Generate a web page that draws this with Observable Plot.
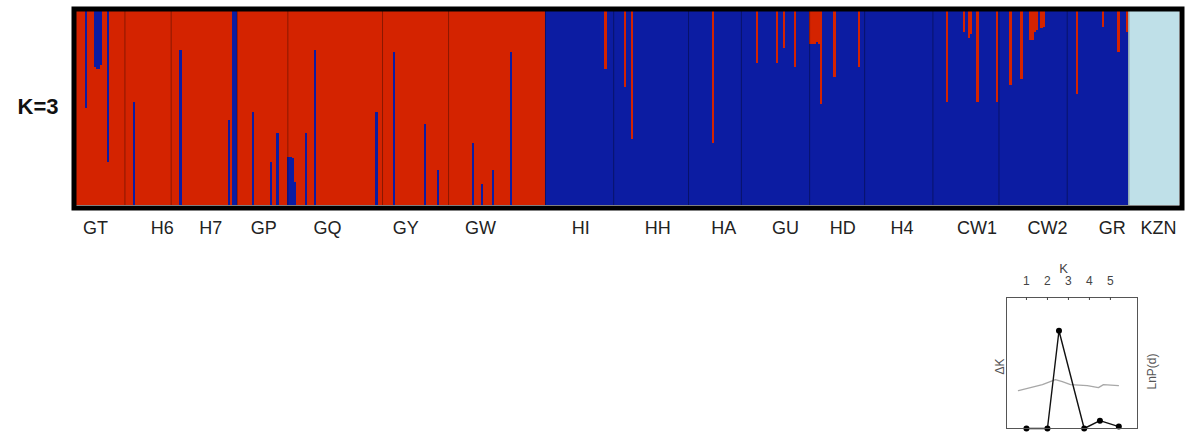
<!DOCTYPE html>
<html>
<head>
<meta charset="utf-8">
<script src="https://cdn.jsdelivr.net/npm/d3@7"></script>
<script src="https://cdn.jsdelivr.net/npm/@observablehq/plot@0.6"></script>
<style>
  html, body { margin: 0; padding: 0; background: #fff; }
  #wrap { position: relative; width: 1188px; height: 434px; overflow: hidden; }
  #inset { position: absolute; left: 980px; top: 255px; }
</style>
</head>
<body>
<div id="wrap"><div id="main"></div><div id="inset"></div></div>
<script>
// ---- Main STRUCTURE plot data (K=3) ----
const populations = ["GT","H6","H7","GP","GQ","GY","GW","HI","HH","HA","GU","HD","H4","CW1","CW2","GR","KZN"];
const popSizes    = [22, 21, 30, 23, 43, 30, 44, 31, 34, 24, 31, 25, 31, 30, 31, 28, 23];
const popCluster  = [0, 0, 0, 0, 0, 0, 0, 1, 1, 1, 1, 1, 1, 1, 1, 1, 2];
const labelPos    = [8.6, 39, 61, 85, 114, 149.5, 183.5, 229, 264, 294, 322, 348, 375, 409, 441, 470.5, 491.5];
const clusterColors = ["#d42300", "#0c1ca2", "#bfe0e8"];

// admixed individuals: index, share of the minority cluster, drawn from top (1) or bottom (0)
const admixIndex  = [4, 8, 9, 10, 11, 14, 26, 47, 69, 71, 72, 80, 88, 91, 96, 97, 98, 99, 104, 108, 136, 144, 158, 164, 180, 184, 189, 197,
                     240, 249, 252, 289, 309, 318, 321, 326, 333, 334, 335, 336, 337, 338, 344, 355, 395, 403, 405, 406, 409, 418, 424, 429, 433, 434, 435, 436, 438, 439, 454, 466, 473, 477];
const admixShare  = [0.50, 0.29, 0.30, 0.30, 0.28, 0.78, 0.53, 0.80, 0.44, 1.0, 1.0, 0.48, 0.22, 0.37, 0.25, 0.25, 0.24, 0.12, 0.37, 0.80, 0.48, 0.79, 0.42, 0.18, 0.32, 0.11, 0.18, 0.79,
                     0.30, 0.39, 0.66, 0.68, 0.27, 0.27, 0.19, 0.29, 0.17, 0.17, 0.17, 0.16, 0.17, 0.48, 0.34, 0.29, 0.47, 0.11, 0.14, 0.12, 0.47, 0.47, 0.38, 0.35, 0.15, 0.15, 0.11, 0.10, 0.09, 0.08, 0.43, 0.08, 0.21, 0.11];
const admixFromTop = [1, 1, 1, 1, 1, 1, 0, 0, 0, 0, 0, 0, 0, 0, 0, 0, 0, 0, 0, 0, 0, 0, 0, 0, 0, 0, 0, 0,
                     1, 1, 1, 1, 1, 1, 1, 1, 1, 1, 1, 1, 1, 1, 1, 1, 1, 1, 1, 1, 1, 1, 1, 1, 1, 1, 1, 1, 1, 1, 1, 1, 1, 1];

// ---- Inset (Evanno deltaK) data ----
const kTicks   = [1, 2, 3, 4, 5];
const kValues  = [1, 2, 2.55, 3.75, 4.5, 5.4];
const deltaK   = [0, 0, 100, 0, 8, 2];
const lnpK     = [0.62, 1.19, 1.76, 2.38, 2.71, 3.10, 3.90, 4.43, 4.67, 5.38];
const lnpValue = [38.8, 41.8, 44.9, 50, 48, 44.9, 43.9, 41.8, 44.9, 43.9];

// ---- Build tables ----
const starts = d3.cumsum([0, ...popSizes]);
const total = starts[starts.length - 1];
const popTable = populations.map((p, i) => ({pop: p, x1: starts[i], x2: starts[i + 1], cluster: popCluster[i]}));
function popOf(idx) { return popTable.find(p => idx >= p.x1 && idx < p.x2); }
const admixTable = admixIndex.map((idx, i) => {
  const major = popOf(idx).cluster;
  const minor = major === 0 ? 1 : 0;
  const s = admixShare[i];
  return {x1: idx, x2: idx + 1, y1: admixFromTop[i] ? 1 - s : 0, y2: admixFromTop[i] ? 1 : s, cluster: minor};
});
const boundaries = starts.slice(1, -1);

const font = "'Liberation Sans', Arial, sans-serif";

const main = Plot.plot({
  width: 1188,
  height: 434,
  marginLeft: 76,
  marginRight: 9,
  marginTop: 11,
  marginBottom: 229,
  style: {fontFamily: font, background: "white"},
  x: {domain: [0, total], axis: null},
  y: {domain: [0, 1], axis: null},
  marks: [
    Plot.rectY(popTable, {x1: "x1", x2: "x2", y1: 0, y2: 1, fill: d => clusterColors[d.cluster], shapeRendering: "crispEdges"}),
    Plot.rectY(admixTable, {x1: "x1", x2: "x2", y1: "y1", y2: "y2", fill: d => clusterColors[d.cluster], shapeRendering: "crispEdges"}),
    Plot.ruleX(boundaries, {x: d => d, stroke: "#000", strokeOpacity: 0.35, strokeWidth: 1}),
    Plot.frame({stroke: "#000", strokeWidth: 5, inset: -2.5}),
    Plot.text(populations, {x: (d, i) => labelPos[i], frameAnchor: "bottom", dy: 23, lineAnchor: "middle", textAnchor: "middle", fontSize: 18, fill: "#222"}),
    Plot.text(["K=3"], {frameAnchor: "left", dx: -18, dy: -2, textAnchor: "end", lineAnchor: "middle", fontSize: 22, fontWeight: "bold", fill: "#111"})
  ]
});
document.getElementById("main").appendChild(main);

const inset = Plot.plot({
  width: 190,
  height: 179,
  marginLeft: 26,
  marginRight: 33,
  marginTop: 42,
  marginBottom: 6,
  style: {fontFamily: font, background: "transparent"},
  x: {domain: [0.05, 6.29], axis: null},
  y: {domain: [0, 134], axis: null},
  marks: [
    Plot.line(lnpK.map((k, i) => ({k, v: lnpValue[i]})), {x: "k", y: "v", stroke: "#a8a8a8", strokeWidth: 1.3, curve: "linear"}),
    Plot.line(kValues.map((k, i) => ({k, v: deltaK[i]})), {x: "k", y: "v", stroke: "#111", strokeWidth: 1.4}),
    Plot.dot(kValues.map((k, i) => ({k, v: deltaK[i]})), {x: "k", y: "v", r: 3, fill: "#000"}),
    Plot.frame({stroke: "#555", strokeWidth: 1}),
    Plot.tickX(kTicks, {x: d => d, insetBottom: 128, stroke: "#444"}),
    Plot.text(kTicks, {x: d => d, frameAnchor: "top", dy: -16, lineAnchor: "middle", fontSize: 12, fill: "#444"}),
    Plot.text(["K"], {frameAnchor: "top", dx: -8.5, dy: -29, textAnchor: "middle", lineAnchor: "middle", fontSize: 13, fill: "#444"}),
    Plot.text(["ΔK"], {frameAnchor: "left", dx: -6, dy: 3.5, rotate: -90, textAnchor: "middle", lineAnchor: "middle", fontSize: 12, fill: "#555"}),
    Plot.text(["LnP(d)"], {frameAnchor: "right", dx: 15, dy: 8.5, rotate: -90, textAnchor: "middle", lineAnchor: "middle", fontSize: 12, fill: "#555"})
  ]
});
document.getElementById("inset").appendChild(inset);
</script>
</body>
</html>
